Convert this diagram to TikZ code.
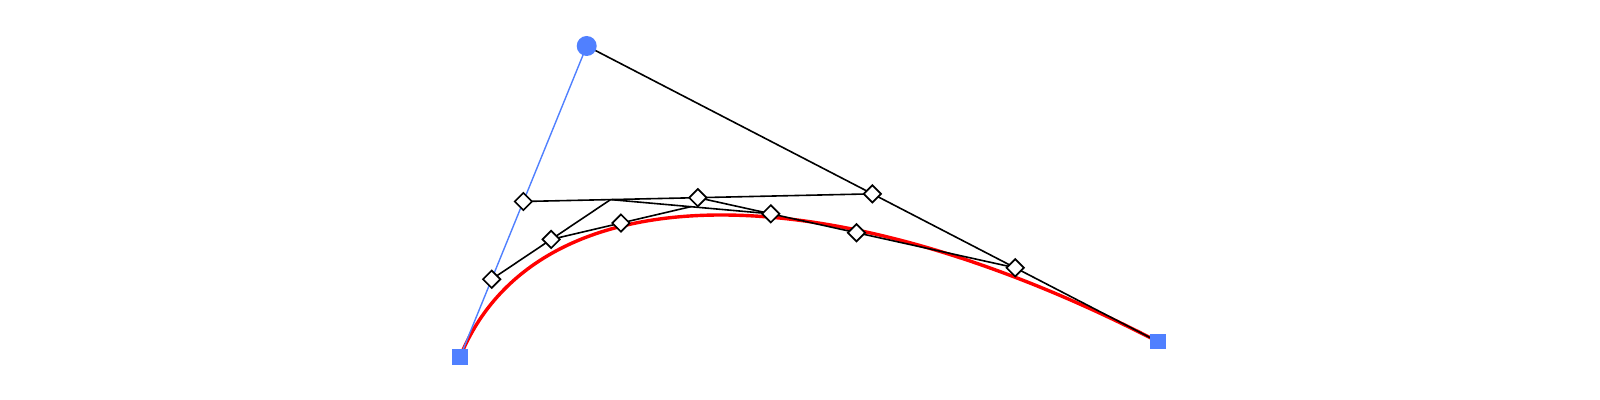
\documentclass[tikz,border=0pt]{standalone}
\usetikzlibrary{calc,shapes.geometric}
\definecolor{ptblue}{RGB}{80,128,255}
\tikzset{
  hullline/.style={black,line width=0.8pt},
  bluehull/.style={ptblue,line width=0.7pt},
  curveline/.style={red,line width=1.7pt},
  dmark/.style={diamond,draw=black,fill=white,line width=0.85pt,inner sep=0pt,minimum width=9pt,minimum height=9pt},
  endpt/.style={rectangle,fill=ptblue,inner sep=0pt,minimum size=7.6pt},
  ctrlpt/.style={circle,fill=ptblue,inner sep=0pt,minimum size=10pt}
}
\begin{document}
\begin{tikzpicture}[x=0.5pt,y=-0.5pt]
\useasboundingbox (0,0) rectangle (1600,400);
\coordinate (P0) at (460,357);
\coordinate (P1) at (586.7,46);
\coordinate (P2) at (1158,341.7);
\coordinate (D1) at ($(P0)!0.5!(P1)$);
\coordinate (D2) at ($(P0)!0.25!(P1)$);
\coordinate (D3) at ($(P1)!0.5!(P2)$);
\coordinate (D4) at ($(P1)!0.75!(P2)$);
\coordinate (D5) at ($(D1)!0.5!(D3)$);
\coordinate (V) at ($(D1)!0.5!(D5)$);
\coordinate (D6) at ($(D2)!0.5!(V)$);
\coordinate (D9) at ($(D5)!0.5!(D4)$);
\coordinate (D8) at ($(D5)!0.23!(D4)$);
\coordinate (X) at ($(V)!0.5!(D8)$);
\coordinate (D7) at ($(D6)!0.5!(X)$);
% curve
\draw[curveline] (P0) .. controls ($(P0)!0.6!(P1)$) and ($(P2)!0.58!(P1)$) .. (P2);
% hull lines
\draw[hullline] (P1) -- (P2);
\draw[hullline] (D1) -- (D3);
\draw[hullline] (D2) -- (V);
\draw[hullline] (V) -- (D8);
\draw[hullline] (D6) -- (X);
\draw[hullline] (D5) -- (D4);
\draw[bluehull] (P0) -- (P1);
% markers
\foreach \p in {D1,D2,D3,D4,D5,D6,D7,D8,D9}{
  \node[dmark] (m\p) at (\p) {};
}
\node[endpt] (e0) at (P0) {};
\node[endpt] (e2) at (P2) {};
\node[ctrlpt] (c1) at (P1) {};
\end{tikzpicture}
\end{document}
